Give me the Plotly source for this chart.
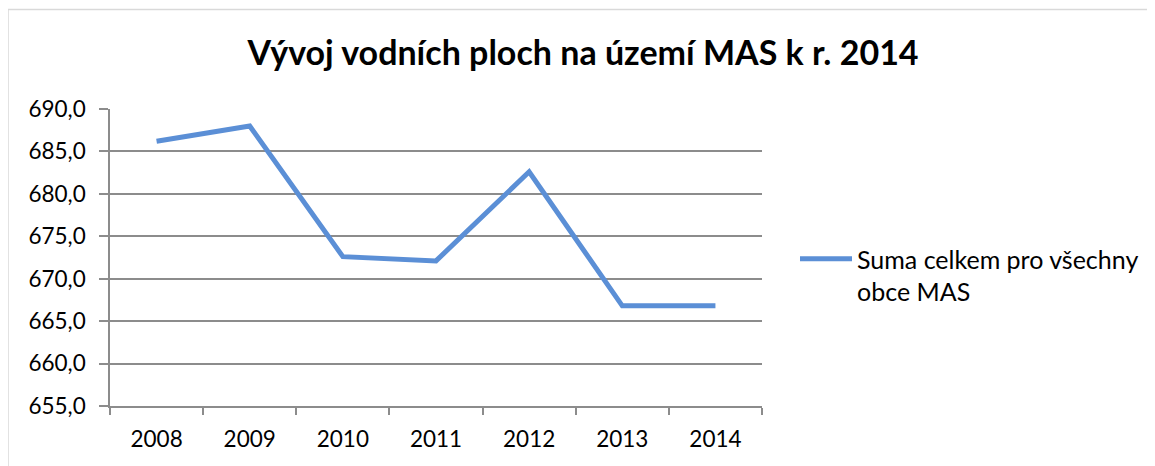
import plotly.graph_objects as go

years = ["2008", "2009", "2010", "2011", "2012", "2013", "2014"]
values = [686.2, 688.0, 672.6, 672.1, 682.6, 666.8, 666.8]
series_name = "Suma celkem pro všechny<br>obce MAS"
title_text = "Vývoj vodních ploch na území MAS k r. 2014"

# page body has an 8px margin; work in figure pixel coordinates
W, H = 1147, 458
L, T = 102, 101.3
pw, ph = 652, 296.4
R = W - L - pw
B = H - T - ph

def px_x(x):
    return (x - L) / pw

def px_y(y):
    return (T + ph - y) / ph

fig = go.Figure()
fig.add_trace(go.Scatter(
    x=years, y=values, mode="lines", name=series_name,
    line=dict(color="#5B8FD6", width=5),
))

font_family = "Lato, Open Sans, sans-serif"
fig.update_layout(
    width=W, height=H,
    margin=dict(l=L, r=R, t=T, b=B, pad=0, autoexpand=False),
    paper_bgcolor="white", plot_bgcolor="white",
    separators=", ",
    title=dict(text="<b>" + title_text + "</b>", x=px_x(575), xref="paper",
               y=1 - 45 / H, yref="container", xanchor="center", yanchor="middle",
               font=dict(family=font_family, size=34, color="black")),
    showlegend=True,
    legend=dict(x=px_x(787), y=px_y(267), xanchor="left", yanchor="middle",
                valign="top",
                font=dict(family=font_family, size=25, color="black"),
                bgcolor="rgba(0,0,0,0)", itemwidth=52),
    xaxis=dict(type="category", range=[-0.5, 6.5], tickson="boundaries",
               ticks="outside", ticklen=7, tickcolor="#8C8C8C", tickwidth=1.5,
               showline=True, linecolor="#8C8C8C", linewidth=1.5,
               showgrid=False, ticklabelstandoff=12,
               tickfont=dict(family=font_family, size=22.5, color="black")),
    yaxis=dict(range=[655, 690], dtick=5, tick0=655, tickformat=".1f",
               ticks="outside", ticklen=9, tickcolor="#8C8C8C", tickwidth=1.5,
               showline=True, linecolor="#8C8C8C", linewidth=1.5,
               showgrid=True, gridcolor="#8C8C8C", gridwidth=1.5,
               zeroline=False, ticklabelstandoff=9,
               tickfont=dict(family=font_family, size=22.5, color="black")),
    shapes=[dict(type="rect", xref="paper", yref="paper",
                 x0=px_x(0), x1=px_x(1160), y0=px_y(470), y1=px_y(2),
                 line=dict(color="#D9D9D9", width=1.5), fillcolor="rgba(0,0,0,0)",
                 layer="below")],
)

fig.write_html("out.html")
